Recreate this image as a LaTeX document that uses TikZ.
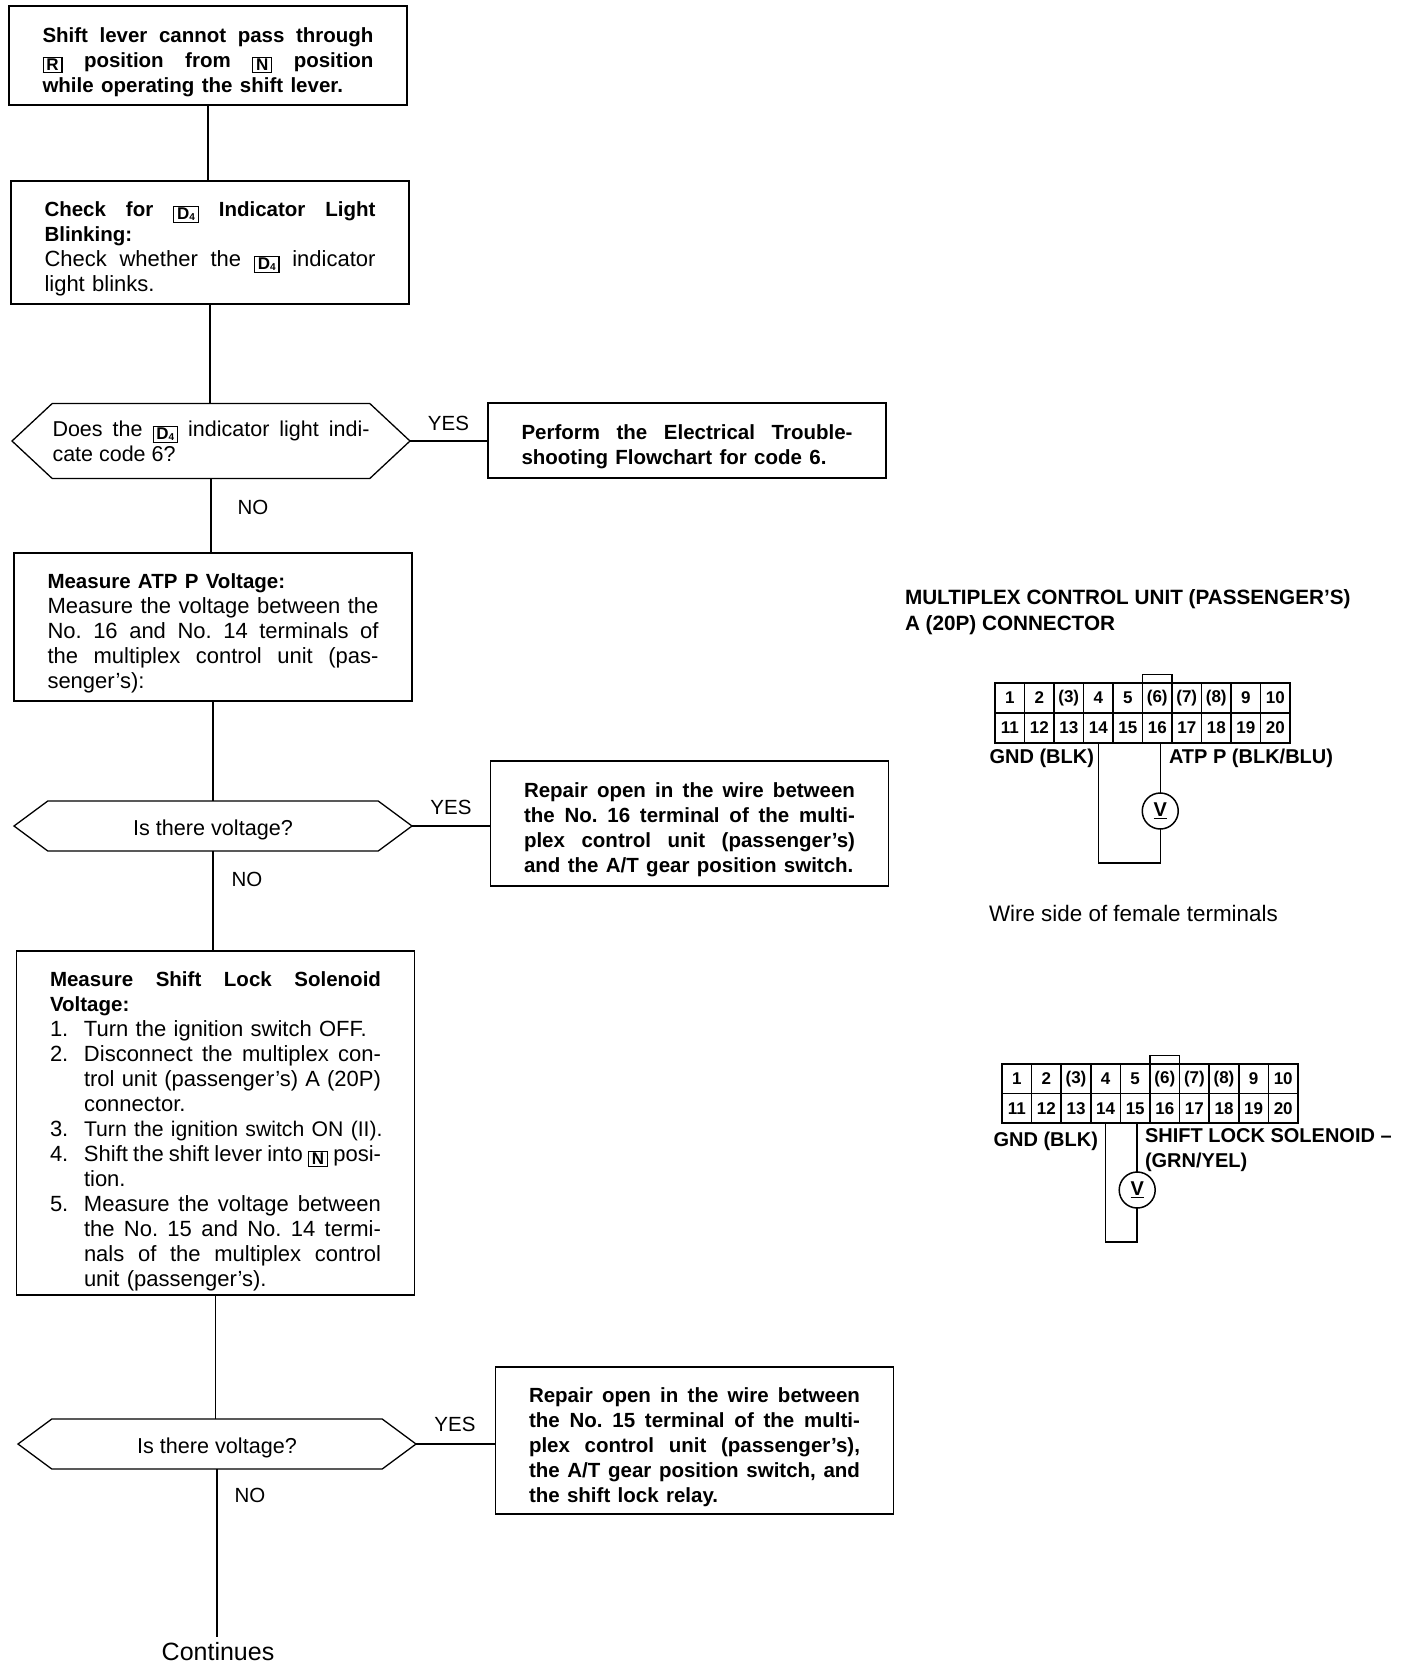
\documentclass[tikz,border=0pt]{standalone}
\usepackage{fontspec}
\setmainfont{Liberation Sans}
\usetikzlibrary{shapes.symbols,calc}
\newcommand\J[1]{\hbox to\hsize{#1}}
\newcommand\Lf[1]{\hbox to\hsize{#1\hfil}}
\newcommand\Itm[2]{\hbox to\hsize{\hbox to34pt{#1.\hfil}\hbox to\dimexpr\hsize-34pt\relax{#2}}}
\newcommand\ItmL[2]{\hbox to\hsize{\hbox to34pt{#1.\hfil}#2\hfil}}
\newcommand\Cont[1]{\hbox to\hsize{\hskip34pt\hbox to\dimexpr\hsize-34pt\relax{#1}}}
\newcommand\ContL[1]{\hbox to\hsize{\hskip34pt #1\hfil}}
\newcommand\Bd{\fontsize{20.5}{25}\selectfont\bfseries}
\newcommand\Tp{\vskip 3pt}
\newcommand\Kb[1]{\raisebox{-3.5pt}{\setlength\fboxsep{1.3pt}\setlength\fboxrule{1.1pt}\fbox{\fontsize{17}{17}\selectfont\bfseries\kern1.5pt\vphantom{D}#1\kern1.5pt}}}
\newcommand\Dfour{\Kb{D\raisebox{-1pt}{\fontsize{10}{10}\selectfont 4}}}
\newcommand\Vq{\vbox{\vskip 7pt\hbox{\fontsize{21.6}{25}\selectfont Is there voltage?}}}
\tikzset{
  every node/.style={font=\fontsize{22}{25}\selectfont,inner sep=0pt,outer sep=0pt},
  wire/.style={line width=1.5pt},
  flowbox/.style={draw,line width=1.7pt,text width=331pt,minimum width=398pt},
  hexa/.style={draw,line width=1.3pt,shape=signal,signal to=west and east,minimum width=398pt},
  lab/.style={font=\fontsize{20.5}{25}\selectfont},
  blab/.style={font=\fontsize{20.7}{25}\selectfont\bfseries,anchor=west},
  cell/.style={draw,line width=1.5pt,font=\fontsize{17}{17}\selectfont\bfseries},
  vmeter/.style={draw,circle,line width=1.5pt,minimum size=36pt,font=\fontsize{20}{20}\selectfont\bfseries},
}
\newcommand\ConnCells[5]{% prefix x0 y0 w h
  \foreach \i/\t in {1/1,2/2,3/(3),4/4,5/5,6/(6),7/(7),8/(8),9/9,10/10}{
    \node[cell,minimum width=#4pt,minimum height=#5pt] (#1\i) at ({#2+(\i-0.5)*#4},{#3+0.5*#5}) {\t};
  }
  \foreach \i in {11,...,20}{
    \node[cell,minimum width=#4pt,minimum height=#5pt] (#1\i) at ({#2+(\i-10.5)*#4},{#3+1.5*#5}) {\i};
  }
  \draw[wire] (#16.north west) -- ++(0,-8.5) -| (#16.north east);
}
\begin{document}
\begin{tikzpicture}[x=1pt,y=-1pt]
\useasboundingbox[fill=white] (0,0) rectangle (1424,1666);

\node[flowbox,minimum height=99pt] (b1) at (208,55.5) {\Tp\Bd
  \J{Shift\hfil lever\hfil cannot\hfil pass\hfil through}
  \J{\Kb{R}\hfil position\hfil from\hfil \Kb{N}\hfil position}
  \Lf{while operating the shift lever.}};
\node[flowbox,minimum height=123pt] (b2) at (210,242.5) {\vskip 2pt
  \J{\Bd Check\hfil for\hfil \Dfour\hfil Indicator\hfil Light}
  \Lf{\Bd Blinking:}
  \J{Check\hfil whether\hfil the\hfil \Dfour\hfil indicator}
  \Lf{light blinks.}};
\node[hexa,minimum height=75pt,signal pointer angle=86] (d1) at (211,441) {\hbox to 317pt{\vbox{\hsize=317pt
  \fontsize{21.5}{25}\selectfont
  \J{Does\hfil the\hfil \Dfour\hfil indicator\hfil light\hfil indi-}
  \Lf{cate code 6?}}}};
\node[flowbox,minimum height=75pt] (y1) at (687,440.5) {\Tp\Bd
  \J{Perform\hfil the\hfil Electrical\hfil Trouble-}
  \Lf{shooting Flowchart for code 6.}};
\node[flowbox,minimum height=148pt] (b3) at (213,627) {\Tp
  \Lf{\Bd Measure ATP P Voltage:}
  \J{Measure\hfil the\hfil voltage\hfil between\hfil the}
  \J{No.\hfil 16\hfil and\hfil No.\hfil 14\hfil terminals\hfil of}
  \J{the\hfil multiplex\hfil control\hfil unit\hfil (pas-}
  \Lf{senger's):}};
\node[hexa,minimum height=50pt,signal pointer angle=73] (d2) at (213,826) {\Vq};
\node[flowbox,minimum height=125pt] (y2) at (689.5,823.5) {\Tp\Bd
  \J{Repair\hfil open\hfil in\hfil the\hfil wire\hfil between}
  \J{the\hfil No.\hfil 16\hfil terminal\hfil of\hfil the\hfil multi-}
  \J{plex\hfil control\hfil unit\hfil (passenger's)}
  \Lf{and the A/T gear position switch.}};
\node[flowbox,minimum height=344pt] (b4) at (215.5,1123) {\vskip 6pt
  \J{\Bd Measure\hfil Shift\hfil Lock\hfil Solenoid}
  \Lf{\Bd Voltage:}
  \ItmL{1}{Turn the ignition switch OFF.}
  \Itm{2}{Disconnect\hfil the\hfil multiplex\hfil con-}
  \Cont{trol\hfil unit\hfil (passenger's)\hfil A\hfil (20P)}
  \ContL{connector.}
  \ItmL{3}{\fontsize{21.2}{25}\selectfont Turn the ignition switch ON (II).}
  \Itm{4}{Shift\hfil the\hfil shift\hfil lever\hfil into\hfil \Kb{N}\hfil posi-}
  \ContL{tion.}
  \Itm{5}{Measure\hfil the\hfil voltage\hfil between}
  \Cont{the\hfil No.\hfil 15\hfil and\hfil No.\hfil 14\hfil termi-}
  \Cont{nals\hfil of\hfil the\hfil multiplex\hfil control}
  \ContL{unit (passenger's).}};
\node[hexa,minimum height=50pt,signal pointer angle=73] (d3) at (217,1444) {\Vq};
\node[flowbox,minimum height=147pt] (y3) at (694.5,1440.5) {\Tp\Bd
  \J{Repair\hfil open\hfil in\hfil the\hfil wire\hfil between}
  \J{the\hfil No.\hfil 15\hfil terminal\hfil of\hfil the\hfil multi-}
  \J{plex\hfil control\hfil unit\hfil (passenger's),}
  \J{the\hfil A/T\hfil gear\hfil position\hfil switch,\hfil and}
  \Lf{the shift lock relay.}};
\node[font=\fontsize{25}{25}\selectfont,anchor=north] (cont) at (218,1642) {Continues};

\node[lab] (ty1) at (448.5,423) {YES};
\node[lab] (ty2) at (451,807) {YES};
\node[lab] (ty3) at (455,1424) {YES};
\node[lab] (tn1) at (253,507) {NO};
\node[lab] (tn2) at (247,879) {NO};
\node[lab] (tn3) at (250,1495) {NO};

\draw[wire] (b1.south) -- (b1.south |- b2.north);
\draw[wire] (b2.south) -- (b2.south |- d1.north);
\draw[wire] (d1.south) -- (d1.south |- b3.north);
\draw[wire] (b3.south) -- (b3.south |- d2.north);
\draw[wire] (d2.south) -- (d2.south |- b4.north);
\draw[wire] (b4.south) -- (b4.south |- d3.north);
\draw[wire,shorten >=5pt] (d3.south) -- (d3.south |- cont.north);
\draw[wire] (d1.east) -- (d1.east -| y1.west);
\draw[wire] (d2.east) -- (d2.east -| y2.west);
\draw[wire] (d3.east) -- (d3.east -| y3.west);

% right-hand notes
\node[blab] (h1) at (905,599) {MULTIPLEX CONTROL UNIT (PASSENGER'S)};
\node[blab] (h2) at (905,625) {A (20P) CONNECTOR};

% upper connector
\ConnCells{a}{995}{683}{29.5}{30}
\node[blab,anchor=east,font=\fontsize{20}{25}\selectfont\bfseries] (ag) at (1094,758) {GND (BLK)};
\node[blab,font=\fontsize{20}{25}\selectfont\bfseries] (aa) at (1169,758) {ATP P (BLK/BLU)};
\node[vmeter] (av) at ([xshift=3pt]a16.south |- 0,811) {\underline{V}};
\coordinate (ab) at (a14.south |- 0,863);
\draw[wire] (av.north |- a16.south) -- (av.north);
\draw[wire] (av.south) -- (av.south |- ab) -- (ab) -- (a14.south);
\node[anchor=west,font=\fontsize{22.4}{25}\selectfont] (aw) at (989,913) {Wire side of female terminals};

% lower connector
\ConnCells{c}{1002}{1064}{29.6}{29.5}
\node[blab,anchor=east,font=\fontsize{20}{25}\selectfont\bfseries] (cg) at (1098,1141) {GND (BLK)};
\node[blab,font=\fontsize{20}{25}\selectfont\bfseries] (cs1) at (1145,1136) {SHIFT LOCK SOLENOID --};
\node[blab,font=\fontsize{20}{25}\selectfont\bfseries] (cs2) at (1145,1162) {(GRN/YEL)};
\node[vmeter] (cv) at ([xshift=2pt]c15.south |- 0,1190) {\underline{V}};
\coordinate (cb) at (c14.south |- 0,1242);
\draw[wire] (cv.north |- c15.south) -- (cv.north);
\draw[wire] (cv.south) -- (cv.south |- cb) -- (cb) -- (c14.south);
\end{tikzpicture}
\end{document}
